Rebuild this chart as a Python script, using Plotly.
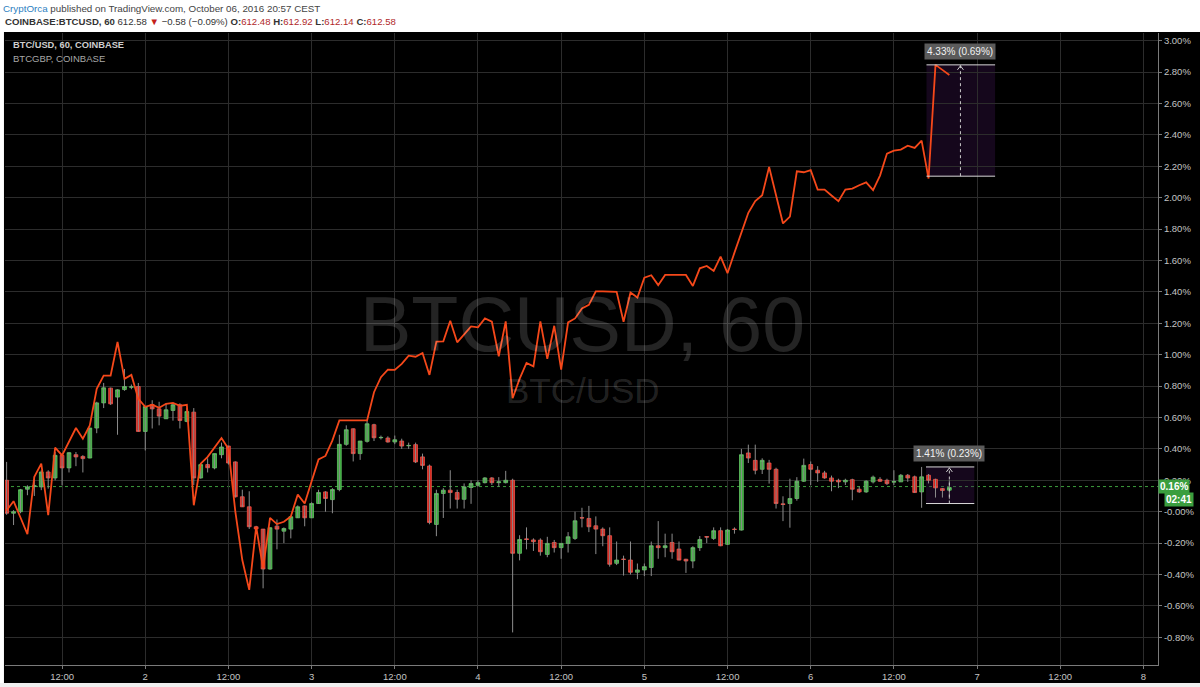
import plotly.graph_objects as go
import pandas as pd

# ---------------- data (percent change, hourly) ----------------
start_time = "2016-10-01 04:00"

btcusd_open = [
    0.20, -0.01, 0.00, 0.143, 0.16, 0.158, 0.253, 0.215, 0.359, 0.279,
    0.363, 0.352, 0.342, 0.533, 0.693, 0.787, 0.730, 0.778, 0.793, 0.797,
    0.511, 0.683, 0.655, 0.592, 0.645, 0.681, 0.575, 0.634, 0.215, 0.30,
    0.279, 0.363, 0.418, 0.317, 0.095, 0.031, -0.096, -0.111, -0.365, -0.092,
    -0.124, -0.111, -0.039, 0.037, -0.039, 0.052, 0.126, 0.077, 0.141, 0.429,
    0.528, 0.37, 0.448, 0.554, 0.471, 0.469, 0.444, 0.45, 0.42, 0.427,
    0.349, 0.291, -0.081, 0.116, 0.137, 0.122, 0.079, 0.154, 0.168, 0.185,
    0.215, 0.185, 0.185, 0.2, -0.265, -0.173, -0.18, -0.181, -0.272, -0.196,
    -0.229, -0.202, -0.17, -0.038, -0.043, -0.09, -0.111, -0.153, -0.329, -0.302,
    -0.308, -0.386, -0.371, -0.355, -0.217, -0.229, -0.196, -0.238, -0.303, -0.314,
    -0.229, -0.158, -0.17, -0.121, -0.208, -0.111, -0.117, 0.374, 0.327, 0.27,
    0.31, 0.27, 0.05, 0.052, 0.084, 0.194, 0.3, 0.264, 0.247, 0.215,
    0.2, 0.19, 0.204, 0.143, 0.126, 0.19, 0.206, 0.2, 0.188, 0.19,
    0.232, 0.222, 0.126, 0.232, 0.206, 0.147, 0.137,
]
btcusd_high = [
    0.317, 0.01, 0.145, 0.168, 0.224, 0.264, 0.264, 0.38, 0.37, 0.38,
    0.38, 0.36, 0.533, 0.70, 0.82, 0.79, 0.78, 0.909, 0.81, 0.82,
    0.67, 0.71, 0.70, 0.69, 0.69, 0.69, 0.66, 0.66, 0.30, 0.34,
    0.37, 0.44, 0.42, 0.32, 0.14, 0.13, -0.09, -0.11, -0.10, -0.05,
    -0.10, -0.03, 0.04, 0.04, 0.06, 0.14, 0.13, 0.15, 0.49, 0.55,
    0.53, 0.45, 0.585, 0.56, 0.485, 0.48, 0.485, 0.465, 0.44, 0.44,
    0.37, 0.30, 0.14, 0.15, 0.264, 0.14, 0.18, 0.20, 0.20, 0.22,
    0.22, 0.22, 0.26, 0.21, -0.15, -0.10, -0.17, -0.17, -0.16, -0.18,
    -0.20, -0.13, 0.0, 0.025, 0.037, -0.03, -0.10, -0.10, -0.19, -0.28,
    -0.19, -0.33, -0.33, -0.19, -0.06, -0.14, -0.14, -0.19, -0.30, -0.22,
    -0.155, -0.155, -0.10, -0.10, -0.11, -0.10, 0.40, 0.427, 0.427, 0.34,
    0.33, 0.28, 0.098, 0.21, 0.22, 0.338, 0.32, 0.29, 0.26, 0.23,
    0.21, 0.21, 0.21, 0.16, 0.20, 0.23, 0.22, 0.21, 0.264, 0.24,
    0.24, 0.23, 0.285, 0.24, 0.21, 0.15, 0.20,
]
btcusd_low = [
    -0.02, -0.085, -0.01, 0.105, 0.10, 0.137, 0.147, 0.20, 0.168, 0.25,
    0.29, 0.25, 0.34, 0.50, 0.66, 0.68, 0.49, 0.77, 0.78, 0.51,
    0.39, 0.53, 0.55, 0.59, 0.58, 0.53, 0.57, 0.17, 0.21, 0.25,
    0.27, 0.34, 0.30, 0.09, 0.03, -0.11, -0.12, -0.488, -0.37, -0.24,
    -0.20, -0.17, -0.04, -0.093, -0.04, 0.05, 0.0, -0.01, 0.13, 0.42,
    0.32, 0.33, 0.44, 0.45, 0.46, 0.44, 0.43, 0.40, 0.40, 0.31,
    0.27, -0.08, -0.156, -0.04, 0.02, 0.02, 0.02, 0.05, 0.16, 0.18,
    0.17, 0.16, 0.18, -0.769, -0.31, -0.24, -0.25, -0.28, -0.29, -0.26,
    -0.30, -0.26, -0.18, -0.10, -0.13, -0.27, -0.22, -0.35, -0.34, -0.407,
    -0.40, -0.43, -0.41, -0.41, -0.30, -0.29, -0.30, -0.31, -0.39, -0.36,
    -0.25, -0.20, -0.18, -0.22, -0.21, -0.14, -0.12, 0.31, 0.238, 0.24,
    0.179, 0.02, -0.06, -0.102, 0.07, 0.19, 0.17, 0.19, 0.21, 0.13,
    0.15, 0.17, 0.073, 0.12, 0.12, 0.18, 0.19, 0.17, 0.17, 0.19,
    0.19, 0.12, 0.025, 0.18, 0.09, 0.09, 0.08,
]
btcusd_close = [
    -0.01, 0.00, 0.14, 0.158, 0.165, 0.253, 0.215, 0.359, 0.279, 0.376,
    0.349, 0.338, 0.533, 0.693, 0.789, 0.687, 0.776, 0.797, 0.795, 0.511,
    0.670, 0.655, 0.609, 0.649, 0.681, 0.581, 0.638, 0.215, 0.30, 0.28,
    0.37, 0.412, 0.31, 0.095, 0.031, -0.096, -0.11, -0.365, -0.102, -0.111,
    -0.107, -0.032, 0.031, -0.039, 0.052, 0.122, 0.084, 0.141, 0.429, 0.522,
    0.37, 0.45, 0.56, 0.471, 0.473, 0.444, 0.458, 0.418, 0.422, 0.317,
    0.295, -0.069, 0.116, 0.137, 0.122, 0.079, 0.158, 0.179, 0.185, 0.215,
    0.185, 0.19, 0.2, -0.265, -0.177, -0.177, -0.191, -0.255, -0.202, -0.229,
    -0.202, -0.16, -0.058, -0.04, -0.096, -0.111, -0.153, -0.335, -0.308, -0.304,
    -0.386, -0.371, -0.35, -0.217, -0.229, -0.217, -0.255, -0.308, -0.314, -0.229,
    -0.177, -0.162, -0.121, -0.217, -0.117, -0.113, 0.363, 0.342, 0.264, 0.327,
    0.27, 0.052, 0.046, 0.084, 0.194, 0.295, 0.27, 0.247, 0.215, 0.194,
    0.19, 0.2, 0.143, 0.126, 0.194, 0.22, 0.194, 0.179, 0.192, 0.232,
    0.215, 0.122, 0.222, 0.2, 0.152, 0.135, 0.154,
]
btcgbp_pct = [
    0.008, 0.067, -0.037, -0.143, 0.222, 0.306, -0.022, 0.408, 0.359, 0.444,
    0.533, 0.465, 0.549, 0.782, 0.867, 0.867, 1.081, 0.846, 0.871, 0.719,
    0.668, 0.681, 0.662, 0.687, 0.693, 0.674, 0.681, 0.041, 0.306, 0.349,
    0.406, 0.469, 0.401, -0.001, -0.308, -0.498, -0.096, -0.361, -0.039, -0.079,
    -0.064, -0.030, 0.109, 0.052, 0.194, 0.333, 0.355, 0.454, 0.581, 0.581,
    0.581, 0.581, 0.581, 0.761, 0.857, 0.905, 0.903, 0.941, 0.994, 0.987,
    1.011, 0.871, 1.083, 1.085, 1.216, 1.079, 1.131, 1.180, 1.174, 1.231,
    1.210, 0.990, 1.212, 0.723, 0.846, 0.947, 0.926, 1.212, 0.973, 1.184,
    0.905, 1.206, 1.231, 1.295, 1.317, 1.403, 1.403, 1.400, 1.400, 1.210,
    1.396, 1.364, 1.491, 1.506, 1.443, 1.508, 1.508, 1.508, 1.508, 1.438,
    1.550, 1.565, 1.533, 1.625, 1.519, 1.650, 1.777, 1.904, 1.978, 2.016,
    2.196, 2.020, 1.836, 1.879, 2.168, 2.162, 2.175, 2.052, 2.052, 2.014,
    1.978, 2.052, 2.058, 2.079, 2.098, 2.048, 2.141, 2.281, 2.300, 2.306,
    2.331, 2.317, 2.363, 2.122, 2.846, 2.814, 2.782,
]

x_tick_values = ["2016-10-01 12:00", "2016-10-02 00:00", "2016-10-02 12:00",
                 "2016-10-03 00:00", "2016-10-03 12:00", "2016-10-04 00:00",
                 "2016-10-04 12:00", "2016-10-05 00:00", "2016-10-05 12:00",
                 "2016-10-06 00:00", "2016-10-06 12:00", "2016-10-07 00:00",
                 "2016-10-07 12:00", "2016-10-08 00:00"]
x_tick_labels = ["12:00", "2", "12:00", "3", "12:00", "4", "12:00", "5",
                 "12:00", "6", "12:00", "7", "12:00", "8"]
y_tick_values = [-0.8, -0.6, -0.4, -0.2, 0.0, 0.2, 0.4, 0.6, 0.8, 1.0,
                 1.2, 1.4, 1.6, 1.8, 2.0, 2.2, 2.4, 2.6, 2.8, 3.0]
y_tick_labels = ["-0.80%", "-0.60%", "-0.40%", "-0.20%", "-0.00%", "0.20%",
                 "0.40%", "0.60%", "0.80%", "1.00%", "1.20%", "1.40%", "1.60%",
                 "1.80%", "2.00%", "2.20%", "2.40%", "2.60%", "2.80%", "3.00%"]
last_value = 0.16
last_label = "0.16%"
countdown_label = "02:41"

# measurement tools drawn on the chart
gbp_measure = dict(t0="2016-10-06 16:42", t1="2016-10-07 02:36", tm="2016-10-06 21:36",
                   lo=2.137, hi=2.846, text="4.33% (0.69%)")
usd_measure = dict(t0="2016-10-06 16:38", t1="2016-10-06 23:36", tm="2016-10-06 20:00",
                   lo=0.052, hi=0.285, text="1.41% (0.23%)")

# ---------------- figure ----------------
times = pd.date_range(start_time, periods=len(btcusd_open), freq="h")

wick_x, wick_y = [], []
for t, lo, hi in zip(times, btcusd_low, btcusd_high):
    wick_x += [t, t, None]
    wick_y += [lo, hi, None]

body_hi = [max(o, c) for o, c in zip(btcusd_open, btcusd_close)]
body_lo = [min(o, c) for o, c in zip(btcusd_open, btcusd_close)]

fig = go.Figure()
fig.add_trace(go.Scatter(x=wick_x, y=wick_y, mode="lines",
                         line=dict(color="#8c8c8c", width=1),
                         hoverinfo="skip", showlegend=False))
fig.add_trace(go.Candlestick(
    x=times, open=btcusd_open, high=body_hi, low=body_lo, close=btcusd_close,
    increasing=dict(fillcolor="#3aa83c", line=dict(color="#63c765", width=0.8)),
    decreasing=dict(fillcolor="#d6261c", line=dict(color="#f0564b", width=0.8)),
    showlegend=False))
fig.add_trace(go.Scatter(x=times, y=btcgbp_pct, mode="lines",
                         line=dict(color="#f5481a", width=1.8),
                         showlegend=False))

FONT = "Liberation Sans, Arial, sans-serif"
shapes = []
# white page frame around the black chart
shapes.append(dict(type="rect", xref="paper", yref="paper", x0=-0.01, x1=1.05,
                   y0=1.0016, y1=1.06, fillcolor="white", line=dict(width=0), layer="above"))
shapes.append(dict(type="rect", xref="paper", yref="paper", x0=-0.01, x1=-0.0009,
                   y0=-0.05, y1=1.06, fillcolor="white", line=dict(width=0), layer="above"))
shapes.append(dict(type="rect", xref="paper", yref="paper", x0=-0.01, x1=1.05,
                   y0=-0.05, y1=-0.0284, fillcolor="#f0f0f0", line=dict(width=0), layer="above"))
# last price dotted line
shapes.append(dict(type="line", xref="paper", yref="y", x0=0, x1=1,
                   y0=last_value, y1=last_value,
                   line=dict(color="#3c9c3c", width=1, dash="dot"), layer="below"))
# measurement boxes
for m in (gbp_measure, usd_measure):
    shapes.append(dict(type="rect", xref="x", yref="y", x0=m["t0"], x1=m["t1"],
                       y0=m["lo"], y1=m["hi"], fillcolor="rgba(60,20,80,0.35)",
                       line=dict(width=0), layer="below"))
    for yv in (m["lo"], m["hi"]):
        shapes.append(dict(type="line", xref="x", yref="y", x0=m["t0"], x1=m["t1"],
                           y0=yv, y1=yv, line=dict(color="#d8d8d8", width=1)))
    shapes.append(dict(type="line", xref="x", yref="y", x0=m["tm"], x1=m["tm"],
                       y0=m["lo"], y1=m["hi"], line=dict(color="#c8c8c8", width=1, dash="dot")))
    shapes.append(dict(type="path", xref="x", yref="y", xsizemode="pixel", ysizemode="pixel",
                       xanchor=m["tm"], yanchor=m["hi"], path="M -3,-5 L 0,-1 L 3,-5",
                       line=dict(color="#d0d0d0", width=1)))

annotations = []
# header
annotations.append(dict(
    xref="paper", yref="paper", x=-0.0035, y=1.039, xanchor="left", yanchor="middle",
    showarrow=False, font=dict(family=FONT, size=9.8, color="#444444"),
    text="<span style='color:#2d7fc1'>CryptOrca</span> published on TradingView.com, October 06, 2016 20:57 CEST"))
annotations.append(dict(
    xref="paper", yref="paper", x=-0.0017, y=1.0175, xanchor="left", yanchor="middle",
    showarrow=False, font=dict(family=FONT, size=9.6, color="#333333"),
    text=("<b>COINBASE:BTCUSD, 60</b> 612.58 <span style='color:#c4221a'>▼</span> "
          "−0.58 (−0.09%) <b>O:</b><span style='color:#b0282a'>612.48</span> "
          "<b>H:</b><span style='color:#b0282a'>612.92</span> "
          "<b>L:</b><span style='color:#b0282a'>612.14</span> "
          "<b>C:</b><span style='color:#b0282a'>612.58</span>")))
# legend text inside chart
annotations.append(dict(xref="paper", yref="paper", x=0.0055, y=0.981, xanchor="left",
                        yanchor="middle", showarrow=False,
                        font=dict(family=FONT, size=9.3, color="#cfcfcf"),
                        text="<b>BTC/USD, 60, COINBASE</b>"))
annotations.append(dict(xref="paper", yref="paper", x=0.0055, y=0.959, xanchor="left",
                        yanchor="middle", showarrow=False,
                        font=dict(family=FONT, size=9.5, color="#a8a8a8"),
                        text="BTCGBP, COINBASE"))
# watermark
annotations.append(dict(xref="paper", yref="paper", x=0.5013, y=0.540, showarrow=False,
                        font=dict(family=FONT, size=77, color="rgba(255,255,255,0.14)"),
                        text="BTCUSD, 60"))
annotations.append(dict(xref="paper", yref="paper", x=0.5013, y=0.4338, showarrow=False,
                        font=dict(family=FONT, size=35, color="rgba(255,255,255,0.14)"),
                        text="BTC/USD"))
# measurement labels
for m in (gbp_measure, usd_measure):
    annotations.append(dict(xref="x", yref="y", x=m["tm"], y=m["hi"], yshift=13,
                            showarrow=False, bgcolor="#5b5b5b", borderpad=2,
                            font=dict(family=FONT, size=10, color="#f2f2f2"),
                            text=m["text"]))
# last price labels on the axis
annotations.append(dict(xref="paper", yref="y", x=1.0, y=last_value, xanchor="left",
                        showarrow=False, bgcolor="#3a9e3e", borderpad=1,
                        font=dict(family=FONT, size=10, color="white"),
                        text="<b>" + last_label + "</b>"))
annotations.append(dict(xref="paper", yref="y", x=1.0055, y=last_value, yshift=-13,
                        xanchor="left", showarrow=False, bgcolor="#3a9e3e", borderpad=1,
                        font=dict(family=FONT, size=10, color="white"),
                        text="<b>" + countdown_label + "</b>"))

fig.update_layout(
    width=1200, height=687, autosize=False,
    margin=dict(l=5, r=40, t=33, b=20),
    paper_bgcolor="black", plot_bgcolor="black",
    shapes=shapes, annotations=annotations,
    hovermode=False, showlegend=False, boxgap=0.22,
    xaxis=dict(range=["2016-10-01 03:46", "2016-10-08 02:06"], type="date",
               tickvals=x_tick_values, ticktext=x_tick_labels,
               showgrid=True, gridcolor="#2c2c2c", gridwidth=1,
               showline=True, linecolor="#7a7a7a", linewidth=1, mirror=False,
               ticks="outside", ticklen=3, tickcolor="#7a7a7a",
               tickfont=dict(family=FONT, size=9.5, color="#c4c4c4"),
               rangeslider=dict(visible=False), zeroline=False, fixedrange=True),
    yaxis=dict(range=[-0.9765, 3.049], side="right",
               tickvals=y_tick_values, ticktext=y_tick_labels,
               showgrid=True, gridcolor="#2c2c2c", gridwidth=1,
               showline=True, linecolor="#7a7a7a", linewidth=1,
               ticks="outside", ticklen=3, tickcolor="#7a7a7a",
               tickfont=dict(family=FONT, size=9.5, color="#c4c4c4"),
               zeroline=False, fixedrange=True),
)

fig.write_html("out.html", config={"displayModeBar": False},
               post_script="document.body.style.margin='0px';document.body.style.overflow='hidden';")
